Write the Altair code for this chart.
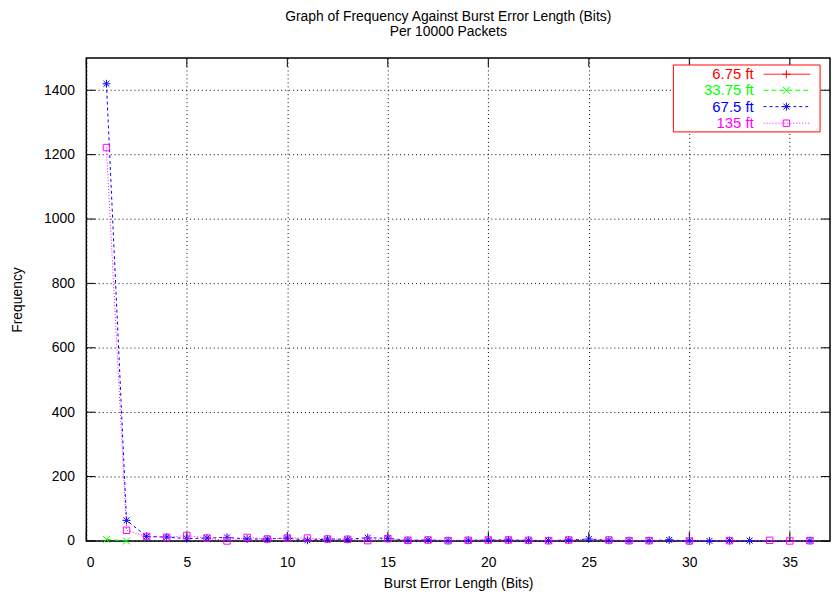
import altair as alt
import pandas as pd

# ---- data ----
x_blue = [1,2,3,4,5,6,7,8,9,10,11,12,13,14,15,16,17,18,19,20,21,22,23,24,25,26,27,28,29,30,31,32,33,36]
y_blue = [1420,64,14,12,7,9,11,6,6,9,2,6,5,10,8,2,3,1,2,3,3,2,1,3,6,2,1,1,3,0,0,1,1,1]
x_pink = [1,2,3,4,5,6,7,8,9,10,11,12,13,14,15,16,17,18,19,20,21,22,23,24,26,27,28,30,32,34,35,36]
y_pink = [1222,33,14,11,17,9,0,11,6,9,9,6,5,1,7,2,3,1,2,3,3,2,1,3,3,1,1,0,1,2,0,1]
x_green = [1,2]
y_green = [5,0]
x_red = []
y_red = []

series_names = ["6.75 ft", "33.75 ft", "67.5 ft", "135 ft"]
series_x = [x_red, x_green, x_blue, x_pink]
series_y = [y_red, y_green, y_blue, y_pink]
colors = ["#ff0000", "#00ff00", "#0000ff", "#ff00ff"]
dashes = [[1, 0], [5, 3], [3, 3], [1, 2]]
shapes = [
    "M-1,0L1,0M0,-1L0,1",
    "M-1,-1L1,1M-1,1L1,-1",
    "M-1,0L1,0M0,-1L0,1M-0.75,-0.75L0.75,0.75M-0.75,0.75L0.75,-0.75",
    "square",
]
sizes = [64, 50, 64, 42]

x_ticks = [0, 5, 10, 15, 20, 25, 30, 35]
y_ticks = [0, 200, 400, 600, 800, 1000, 1200, 1400]

W, H = 750, 487
FONT = "Liberation Sans"

xs = alt.Scale(domain=[0, 37], nice=False, zero=False)
ys = alt.Scale(domain=[0, 1500], nice=False)

layers = []

base = alt.Chart(pd.DataFrame({"x": [0], "y": [0]})).mark_point(opacity=0).encode(
    x=alt.X("x:Q", scale=xs, axis=alt.Axis(values=x_ticks, title="Burst Error Length (Bits)",
                                          titleX=W / 2, titleY=43, titleBaseline="middle",
                                          labelPadding=15, format="d")),
    y=alt.Y("y:Q", scale=ys, axis=alt.Axis(values=y_ticks, title="Frequency",
                                          titleX=-69, titleY=H / 2, titleAngle=-90,
                                          titleBaseline="middle", labelPadding=12, format="d")),
)
layers.append(base)

xt = alt.Chart(pd.DataFrame({"t": x_ticks}))
yt = alt.Chart(pd.DataFrame({"t": y_ticks}))
layers.append(xt.mark_rule(color="black", strokeWidth=1).encode(
    x=alt.X("t:Q", scale=xs), y=alt.value(H), y2=alt.value(H - 9)))
layers.append(xt.mark_rule(color="black", strokeWidth=1).encode(
    x=alt.X("t:Q", scale=xs), y=alt.value(0), y2=alt.value(9)))
layers.append(yt.mark_rule(color="black", strokeWidth=1).encode(
    y=alt.Y("t:Q", scale=ys), x=alt.value(0), x2=alt.value(9)))
layers.append(yt.mark_rule(color="black", strokeWidth=1).encode(
    y=alt.Y("t:Q", scale=ys), x=alt.value(W), x2=alt.value(W - 9)))

for name, sx, sy, c, d, sh, sz in zip(series_names, series_x, series_y, colors, dashes, shapes, sizes):
    df = pd.DataFrame({"x": pd.Series(sx, dtype=float), "y": pd.Series(sy, dtype=float), "series": name})
    ch = alt.Chart(df)
    layers.append(ch.mark_line(color=c, strokeWidth=1, strokeDash=d).encode(
        x=alt.X("x:Q", scale=xs), y=alt.Y("y:Q", scale=ys)))
    layers.append(ch.mark_point(color=c, shape=sh, size=sz, filled=False, strokeWidth=1, opacity=1).encode(
        x=alt.X("x:Q", scale=xs), y=alt.Y("y:Q", scale=ys)))

one = alt.Chart(pd.DataFrame({"a": [0]}))
layers.append(one.mark_rect(fill="white", stroke="#ff0000", strokeWidth=1).encode(
    x=alt.value(592), x2=alt.value(740), y=alt.value(7), y2=alt.value(74.5)))
row_y = [16.3, 32.5, 49, 65.7]
for name, c, d, sh, sz, ry in zip(series_names, colors, dashes, shapes, sizes, row_y):
    layers.append(one.mark_text(align="right", baseline="middle", font=FONT, fontSize=15, color=c).encode(
        x=alt.value(673), y=alt.value(ry), text=alt.value(name)))
    layers.append(one.mark_rule(color=c, strokeWidth=1, strokeDash=d).encode(
        x=alt.value(683), x2=alt.value(730), y=alt.value(ry)))
    layers.append(one.mark_point(color=c, shape=sh, size=sz, filled=False, strokeWidth=1, opacity=1).encode(
        x=alt.value(706), y=alt.value(ry)))

chart = alt.layer(*layers).properties(
    width=W, height=H,
    title=alt.TitleParams(
        text=["Graph of Frequency Against Burst Error Length (Bits)", "Per 10000 Packets"],
        font=FONT, fontSize=14, fontWeight="normal", color="black", anchor="middle",
        dx=-10, offset=19, lineHeight=15,
    ),
    autosize=alt.AutoSizeParams(type="none"),
    padding={"left": 79, "top": 48, "right": 2, "bottom": 48},
).configure_view(
    stroke="black", strokeWidth=1.5
).configure_axis(
    labelFont=FONT, labelFontSize=14, labelColor="black",
    titleFont=FONT, titleFontSize=14, titleFontWeight="normal", titleColor="black",
    domain=False, ticks=False, tickSize=0,
    grid=True, gridColor="#000000", gridDash=[1, 3], gridWidth=1,
)

chart.save("out.html", embed_options={"renderer": "svg", "actions": False})
